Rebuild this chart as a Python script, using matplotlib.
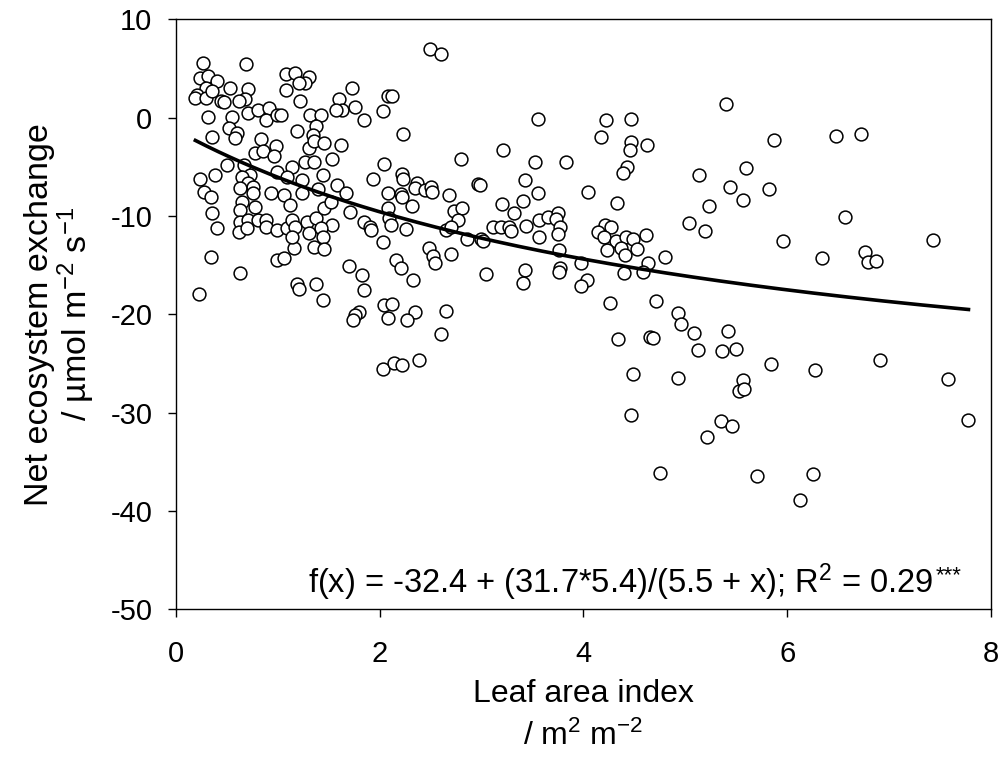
import numpy as np
import matplotlib
matplotlib.use("Agg")
import matplotlib.pyplot as plt

plt.rcParams['font.family'] = ['Liberation Sans', 'DejaVu Sans']
plt.rcParams['axes.unicode_minus'] = False
plt.rcParams['mathtext.default'] = 'regular'

# Leaf area index (m2 m-2) and net ecosystem exchange (umol m-2 s-1)
lai = [
    0.26, 0.69, 1.08, 1.17, 1.31, 1.27, 1.21, 0.24, 0.31, 0.40, 0.29, 0.21, 0.19, 0.29, 0.35,
    0.53, 0.71, 0.68, 0.62, 0.44, 0.47, 1.08, 1.22, 1.73, 1.60, 1.63, 1.76, 1.57, 1.85, 2.08,
    2.12, 2.03, 0.31, 0.55, 0.71, 0.80, 0.91, 0.88, 0.99, 1.03, 1.32, 1.42, 1.37, 1.34, 1.19,
    0.52, 0.60, 0.58, 0.35, 0.83, 0.98, 0.78, 0.85, 0.96, 1.31, 1.35, 1.45, 1.62, 1.53, 1.27,
    1.35, 1.14, 0.99, 0.67, 0.50, 0.73, 0.65, 0.71, 0.76, 0.63, 0.76, 0.24, 0.38, 0.27, 0.34,
    0.93, 1.06, 1.24, 1.09, 1.24, 1.39, 1.44, 1.58, 1.67, 1.93, 2.04, 2.08, 0.65, 0.63, 0.78,
    1.12, 0.35, 0.40, 0.63, 0.71, 0.80, 0.88, 0.62, 0.70, 0.88, 0.99, 1.09, 1.14, 1.17, 1.29,
    1.31, 1.37, 1.45, 1.52, 1.71, 1.53, 1.42, 1.44, 1.85, 1.90, 1.91, 2.03, 1.16, 1.35, 1.45,
    1.14, 0.34, 0.99, 1.06, 1.70, 1.83, 0.63, 1.19, 1.21, 1.37, 1.85, 1.44, 0.23, 1.80, 1.76,
    2.04, 1.74, 2.12, 2.08, 2.35, 2.65, 2.27, 2.60, 2.03, 2.14, 2.22, 2.39,
    2.49, 2.60, 2.23, 3.55, 3.21, 2.80, 3.52, 3.83, 2.22, 2.23, 2.21, 2.22, 2.37, 2.35, 2.44,
    2.50, 2.51, 2.68, 2.32, 2.08, 2.09, 2.11, 2.26, 2.73, 2.81, 2.77, 2.65, 2.70, 2.86, 2.96,
    2.98, 2.99, 3.01, 3.11, 3.19, 3.27, 3.29, 3.20, 3.32, 3.41, 3.43, 3.55, 3.44, 3.56, 3.56,
    3.65, 3.75, 3.73, 3.77, 3.75, 4.04, 3.76, 3.98, 2.48, 2.52, 2.54, 2.70, 2.16, 2.21, 2.33,
    3.04, 3.43, 3.41, 3.77, 3.76, 4.03, 3.98,
    5.40, 4.22, 4.47, 4.17, 4.47, 4.46, 4.62, 4.43, 4.39, 5.87, 5.60, 5.13, 5.44, 5.57, 5.82,
    4.33, 5.23, 5.04, 5.19, 5.96, 4.21, 4.27, 4.14, 4.20, 4.32, 4.42, 4.49, 4.61, 4.23, 4.37,
    4.41, 4.53, 4.80, 4.63, 4.58, 4.40, 4.26, 4.71, 4.93,
    4.96, 4.34, 4.65, 4.68, 5.09, 5.42, 5.12, 5.36, 5.50, 5.84, 4.49, 4.93, 5.57, 5.53, 5.58,
    4.47, 5.35, 5.46, 5.21, 4.75, 5.70,
    6.48, 6.72, 6.57, 6.34, 6.76, 6.79, 6.87, 7.43,
    6.27, 6.91, 7.58, 7.78, 6.25, 6.13,
]
nee = [
    5.58, 5.41, 4.49, 4.56, 4.15, 3.54, 3.54, 4.05, 4.22, 3.71, 3.03, 2.35, 2.01, 2.01, 2.69,
    3.03, 2.93, 1.90, 1.67, 1.67, 1.56, 2.79, 1.73, 3.03, 1.90, 0.82, 1.09, 0.82, -0.27, 2.20,
    2.20, 0.65, 0.07, 0.07, 0.48, 0.82, 0.99, -0.20, 0.31, 0.31, 0.31, 0.31, -0.88, -1.73, -1.39,
    -1.05, -1.56, -2.07, -1.97, -2.18, -2.86, -3.61, -3.44, -3.95, -3.10, -2.41, -2.59, -2.76, -4.22, -4.46,
    -4.46, -4.97, -5.48, -4.86, -4.86, -5.82, -5.99, -6.67, -7.01, -7.18, -7.69, -6.26, -5.88, -7.52, -8.10,
    -7.62, -7.86, -7.69, -5.99, -6.33, -7.24, -5.88, -6.84, -7.62, -6.26, -4.69, -7.69, -8.54, -9.39, -9.12,
    -8.88, -9.73, -11.26, -10.58, -10.41, -10.41, -10.41, -11.60, -11.26, -11.09, -11.43, -11.26, -10.41, -11.09, -10.58,
    -11.77, -10.24, -9.22, -8.54, -9.56, -10.92, -11.26, -12.11, -10.58, -11.09, -11.43, -12.62, -13.30, -13.13, -13.40,
    -12.11, -14.15, -14.49, -14.32, -15.10, -16.02, -15.75, -16.87, -17.38, -16.87, -17.48, -18.57, -17.96, -19.76, -20.10,
    -19.08, -20.60, -18.98, -20.40, -19.76, -19.66, -20.54, -21.97, -25.60, -24.96, -25.20, -24.60,
    6.94, 6.43, -1.63, -0.14, -3.33, -4.22, -4.56, -4.46, -5.71, -6.26, -7.76, -8.10, -6.67, -7.18, -7.35,
    -7.01, -7.52, -7.86, -8.98, -9.22, -10.24, -10.92, -11.36, -9.46, -9.22, -10.41, -11.43, -11.09, -12.38, -6.77,
    -6.84, -12.38, -12.52, -11.09, -11.09, -11.09, -11.50, -8.78, -9.66, -8.44, -6.39, -7.69, -11.02, -10.41, -12.18,
    -10.14, -9.66, -10.34, -11.16, -11.84, -7.52, -13.47, -14.76, -13.30, -14.08, -14.76, -13.88, -14.49, -15.24, -16.46,
    -15.85, -15.51, -16.80, -15.34, -15.68, -16.53, -17.14,
    1.43, -0.20, -0.14, -1.97, -2.52, -3.27, -2.79, -5.03, -5.65, -2.31, -5.14, -5.82, -7.07, -8.37, -7.28,
    -8.71, -8.98, -10.68, -11.50, -12.52, -10.92, -11.09, -11.60, -12.11, -12.52, -12.18, -12.38, -11.94, -13.47, -13.30,
    -13.98, -13.37, -14.15, -14.83, -15.68, -15.78, -18.84, -18.67, -19.86,
    -21.02, -22.48, -22.31, -22.38, -21.87, -21.73, -23.67, -23.74, -23.50, -25.03, -26.12, -26.50, -26.67, -27.82, -27.58,
    -30.20, -30.82, -31.33, -32.52, -36.09, -36.43,
    -1.84, -1.67, -10.14, -14.29, -13.64, -14.66, -14.59, -12.45,
    -25.64, -24.62, -26.56, -30.71, -36.19, -38.91,
]

# fitted curve f(x) = a + (b*c)/(d + x)
a, b, c, d = -32.4, 31.7, 5.4, 5.5
xfit = np.linspace(min(lai), max(lai), 200)
yfit = a + (b * c) / (d + xfit)

fig = plt.figure(figsize=(10.07, 7.64), dpi=100)
ax = fig.add_axes([0.1748, 0.2025, 0.984 - 0.1748, 0.9747 - 0.2025])

ax.scatter(lai, nee, s=85, facecolors='white', edgecolors='black', linewidths=1.1, zorder=2)
ax.plot(xfit, yfit, color='black', linewidth=2.6, zorder=3)

ax.set_xlim(0, 8)
ax.set_ylim(-50, 10)
ax.set_xticks([0, 2, 4, 6, 8])
ax.set_yticks([10, 0, -10, -20, -30, -40, -50])

for sp in ax.spines.values():
    sp.set_linewidth(1.0)
ax.tick_params(axis='both', direction='out', length=6, width=1.0, labelsize=21)
ax.tick_params(axis='x', pad=16)
ax.tick_params(axis='y', pad=11)

ax.set_xlabel('Leaf area index\n/ m$^2$ m$^{-2}$', fontsize=23, labelpad=8, linespacing=1.5)
ax.set_ylabel('Net ecosystem exchange\n/ µmol m$^{-2}$ s$^{-1}$', fontsize=24.5, labelpad=10,
              linespacing=1.0)

eq = ax.text(0.93, 0.028, 'f(x) = -32.4 + (31.7*5.4)/(5.5 + x); R$^2$ = 0.29',
             transform=ax.transAxes, ha='right', va='baseline', fontsize=23.5)
ax.annotate('***', xy=(1, 1), xycoords=eq, xytext=(1, -3), textcoords='offset points',
            ha='left', va='top', fontsize=16)

fig.savefig('out.png', dpi=100)
